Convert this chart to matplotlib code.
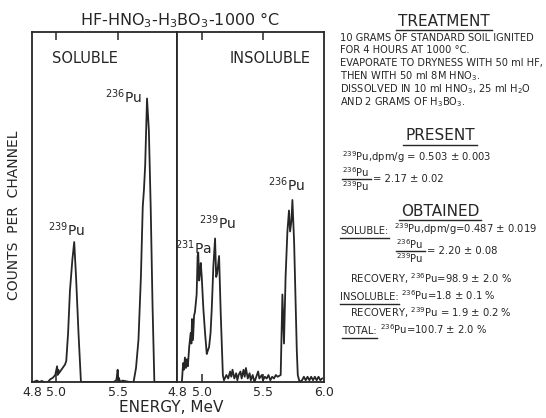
import numpy as np
import matplotlib
matplotlib.use("Agg")
import matplotlib.pyplot as plt
from matplotlib.lines import Line2D

# soluble fraction spectrum (energy MeV, relative counts)
sol_energy = [4.81, 4.84, 4.86, 4.88, 4.90, 4.93, 4.95, 4.97, 4.99, 5.005, 5.01, 5.015,
              5.02, 5.03, 5.05, 5.07, 5.08, 5.095, 5.11, 5.13, 5.145, 5.16, 5.18, 5.20,
              5.30, 5.40, 5.47, 5.49, 5.495, 5.50, 5.505, 5.51, 5.52, 5.54, 5.60, 5.63,
              5.65, 5.67, 5.69, 5.705, 5.715, 5.725, 5.74, 5.755, 5.77, 5.785, 5.80,
              5.90, 5.98]
sol_counts = [0.0, 0.004, 0.0, 0.003, 0.0, 0.0, 0.008, 0.012, 0.02, 0.045, 0.02, 0.035,
              0.025, 0.03, 0.04, 0.05, 0.06, 0.14, 0.26, 0.35, 0.40, 0.30, 0.14, 0.0,
              0.0, 0.0, 0.0, 0.006, 0.02, 0.035, 0.005, 0.012, 0.0, 0.004, 0.0, 0.0,
              0.04, 0.12, 0.30, 0.50, 0.55, 0.62, 0.81, 0.72, 0.50, 0.22, 0.0,
              0.0, 0.0]

# insoluble fraction spectrum
ins_energy = [4.835, 4.845, 4.852, 4.86, 4.868, 4.876, 4.884, 4.895, 4.907, 4.913, 4.918,
              4.926, 4.935, 4.942, 4.956, 4.964, 4.969, 4.977, 4.983, 4.99, 4.998, 5.005,
              5.011, 5.025, 5.039, 5.048, 5.058, 5.07, 5.08, 5.093, 5.107, 5.116, 5.124,
              5.14, 5.153, 5.171,
              5.18, 5.20, 5.215, 5.23, 5.24, 5.25, 5.265, 5.28, 5.29, 5.30, 5.315, 5.325,
              5.34, 5.35, 5.36, 5.375, 5.39, 5.40, 5.415, 5.43, 5.445, 5.46, 5.47, 5.49,
              5.50, 5.515, 5.53, 5.545, 5.56, 5.575, 5.59, 5.605, 5.62, 5.645,
              5.659, 5.672, 5.685, 5.70, 5.713, 5.722, 5.733, 5.741, 5.755, 5.777, 5.785,
              5.80, 5.82, 5.835, 5.85, 5.865, 5.88, 5.895, 5.91, 5.925, 5.94, 5.955,
              5.97, 5.985]
ins_counts = [0.0, 0.054, 0.035, 0.07, 0.04, 0.065, 0.045, 0.10, 0.14, 0.11, 0.18,
              0.12, 0.19, 0.20, 0.25, 0.36, 0.37, 0.29, 0.31, 0.34, 0.30, 0.25,
              0.21, 0.14, 0.08, 0.09, 0.10, 0.14, 0.21, 0.33, 0.41, 0.30, 0.31,
              0.36, 0.20, 0.02,
              0.005, 0.02, 0.01, 0.03, 0.015, 0.035, 0.01, 0.025, 0.005, 0.02, 0.03, 0.01,
              0.035, 0.015, 0.04, 0.01, 0.025, 0.005, 0.02, 0.0, 0.015, 0.03, 0.01, 0.02,
              0.005, 0.015, 0.01, 0.02, 0.005, 0.015, 0.01, 0.02, 0.015, 0.02,
              0.25, 0.11, 0.30, 0.43, 0.49, 0.43, 0.46, 0.52, 0.40, 0.09, 0.02,
              0.0, 0.005, 0.015, 0.005, 0.015, 0.005, 0.015, 0.005, 0.015, 0.005, 0.015,
              0.005, 0.01]

# peak labels: (text, energy, height)
sol_labels = [(r"$^{236}$Pu", 5.55, 0.815), (r"$^{239}$Pu", 5.085, 0.435)]
ins_labels = [(r"$^{231}$Pa", 4.928, 0.385), (r"$^{239}$Pu", 5.13, 0.455),
              (r"$^{236}$Pu", 5.69, 0.565)]

ink = '#262626'
W, H = 546, 418

def fx(x):
    return x / W

def fy(y):
    return 1 - y / H

fig = plt.figure(figsize=(5.46, 4.18), dpi=100)

ax1 = fig.add_axes([fx(32), fy(382), fx(145), 350 / H])
ax2 = fig.add_axes([fx(177), fy(382), fx(147), 350 / H])

ax1.plot(sol_energy, sol_counts, color=ink, lw=1.3)
ax2.plot(ins_energy, ins_counts, color=ink, lw=1.3)

ax1.set_xlim(4.81, 5.985)
ax2.set_xlim(4.795, 6.0)
for ax, ticks in ((ax1, [4.8, 5.0, 5.5]), (ax2, [4.8, 5.0, 5.5, 6.0])):
    ax.set_ylim(0, 1)
    ax.set_yticks([])
    ax.set_xticks(ticks)
    ax.set_xticklabels([f"{t:.1f}" for t in ticks])
    ax.tick_params(axis='x', direction='in', top=True, length=6, width=1.1,
                   color=ink, labelsize=9, labelcolor=ink, pad=3)
    for s in ax.spines.values():
        s.set_color(ink)
        s.set_linewidth(1.3)

# hide the 4.8 / 6.0 edge ticks (they sit on the frame)
for ax in (ax1, ax2):
    for t in ax.xaxis.get_major_ticks():
        if abs(t.get_loc() - 5.0) > 0.01 and abs(t.get_loc() - 5.5) > 0.01:
            t.tick1line.set_visible(False)
            t.tick2line.set_visible(False)

ax1.text(0.366, 0.925, "SOLUBLE", transform=ax1.transAxes, ha='center', va='center',
         fontsize=10.5, color=ink)
ax2.text(0.633, 0.925, "INSOLUBLE", transform=ax2.transAxes, ha='center', va='center',
         fontsize=10.5, color=ink)

for ax, labels in ((ax1, sol_labels), (ax2, ins_labels)):
    for txt, e, c in labels:
        ax.text(e, c, txt, ha='center', va='center', fontsize=10, color=ink)

fig.text(fx(180), fy(20), r"HF-HNO$_3$-H$_3$BO$_3$-1000 °C", ha='center', va='center',
         fontsize=11.5, color=ink)
fig.text(fx(14), fy(215), "COUNTS  PER  CHANNEL", rotation=90, ha='center', va='center',
         fontsize=10, color=ink)
fig.text(fx(171), fy(408), "ENERGY, MeV", ha='center', va='center', fontsize=11, color=ink)

# right-hand notes
fig.canvas.draw()
r = fig.canvas.get_renderer()
inv = fig.transFigure.inverted()

def extent(t):
    return t.get_window_extent(r).transformed(inv)

def underline(t, pad=2.0, over=2.0):
    bb = extent(t)
    yl = bb.y0 - pad / H
    fig.add_artist(Line2D([bb.x0 - over / W, bb.x1 + over / W], [yl, yl],
                          transform=fig.transFigure, color=ink, lw=1.0))

def heading(x, y, s):
    t = fig.text(fx(x), fy(y), s, ha='center', va='center', fontsize=11, color=ink)
    underline(t, pad=1.5)

def prefixed(x, y, head, rest, gap=3, fs=7.2):
    t = fig.text(fx(x), fy(y), head, ha='left', va='center', fontsize=fs, color=ink)
    bb = extent(t)
    underline(t, pad=1.5, over=0.5)
    fig.text(bb.x1 + gap / W, fy(y - 2), rest, ha='left', va='center', fontsize=fs,
             color=ink)

def ratio(x, y, num, den, rest, fs=7.2):
    a = fig.text(fx(x), fy(y - 7), num, ha='left', va='center', fontsize=fs, color=ink)
    b = fig.text(fx(x), fy(y + 7), den, ha='left', va='center', fontsize=fs, color=ink)
    ba, bb = extent(a), extent(b)
    x1 = max(ba.x1, bb.x1) + 2 / W
    fig.add_artist(Line2D([fx(x), x1], [fy(y), fy(y)], transform=fig.transFigure,
                          color=ink, lw=1.0))
    fig.text(x1 + 2 / W, fy(y), rest, ha='left', va='center', fontsize=fs, color=ink)

heading(444, 21, "TREATMENT")
treatment = ["10 GRAMS OF STANDARD SOIL IGNITED",
             "FOR 4 HOURS AT 1000 °C.",
             "EVAPORATE TO DRYNESS WITH 50 ml HF,",
             r"THEN WITH 50 ml 8M HNO$_3$.",
             r"DISSOLVED IN 10 ml HNO$_3$, 25 ml H$_2$O",
             r"AND 2 GRAMS OF H$_3$BO$_3$."]
ty = [38, 50, 63, 76, 89, 102]
for line, y in zip(treatment, ty):
    fig.text(fx(340), fy(y), line, ha='left', va='center', fontsize=7.1, color=ink)

heading(440, 136, "PRESENT")
fs = 7.2
fig.text(fx(342), fy(157), r"$^{239}$Pu,dpm/g = 0.503 ± 0.003", ha='left', va='center',
         fontsize=fs, color=ink)
ratio(342, 179, r"$^{236}$Pu", r"$^{239}$Pu", "= 2.17 ± 0.02")

heading(440, 211, "OBTAINED")
prefixed(340, 231, "SOLUBLE:", r"$^{239}$Pu,dpm/g=0.487 ± 0.019", gap=6)
ratio(396, 251, r"$^{236}$Pu", r"$^{239}$Pu", "= 2.20 ± 0.08")
fig.text(fx(350), fy(279), r"RECOVERY, $^{236}$Pu=98.9 ± 2.0 %", ha='left', va='center',
         fontsize=fs, color=ink)
prefixed(340, 297, "INSOLUBLE:", r"$^{236}$Pu=1.8 ± 0.1 %", gap=2)
fig.text(fx(350), fy(313), r"RECOVERY, $^{239}$Pu = 1.9 ± 0.2 %", ha='left', va='center',
         fontsize=fs, color=ink)
prefixed(342, 331, "TOTAL:", r"$^{236}$Pu=100.7 ± 2.0 %", gap=3)

fig.savefig("out.png", dpi=100, facecolor='white')
